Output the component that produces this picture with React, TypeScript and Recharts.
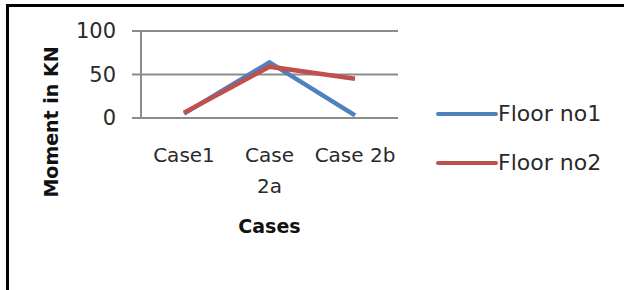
import { LineChart, Line, XAxis, YAxis, CartesianGrid, Legend, Label } from "recharts"

const cases = ["Case1", "Case\n2a", "Case 2b"]
const floorNo1 = [5, 64, 3]
const floorNo2 = [6, 59, 45]
const yTicks = [0, 50, 100]
const seriesNames = ["Floor no1", "Floor no2"]
const seriesColors = ["#4F81BD", "#C0504D"]

const data = cases.map((name, i) => ({ name, f1: floorNo1[i], f2: floorNo2[i] }))

const font = "'DejaVu Sans', sans-serif"

function CaseTick({ x, y, payload }: any) {
  const lines = String(payload.value).split("\n")
  return (
    <text x={x} y={y} textAnchor="middle" fill="#2a2a2a" fontSize={20} fontFamily={font}>
      {lines.map((l, i) => (
        <tspan key={i} x={x} dy={i === 0 ? 44 : 31}>
          {l}
        </tspan>
      ))}
    </text>
  )
}

function LegendBox({ payload }: any) {
  return (
    <div>
      {(payload || []).map((p: any) => (
        <div key={p.value} style={{ display: "flex", alignItems: "center", height: 49 }}>
          <svg width={62} height={6}>
            <line x1={2} y1={3} x2={60} y2={3} stroke={p.color} strokeWidth={4} strokeLinecap="round" />
          </svg>
          <span style={{ fontFamily: font, fontSize: 22, color: "#2a2a2a" }}>{p.value}</span>
        </div>
      ))}
    </div>
  )
}

export default function App() {
  return (
    <div style={{ position: "absolute", left: 0, top: 0, width: 624, height: 290, background: "#fff" }}>
      <div
        style={{
          position: "absolute",
          left: 6,
          top: 4,
          width: 618,
          height: 286,
          borderTop: "3px solid #000",
          borderLeft: "3px solid #000",
          boxSizing: "border-box",
        }}
      />
      <LineChart
        width={624}
        height={290}
        data={data}
        margin={{ top: 31, right: 226, left: 0, bottom: 72 }}
        style={{ position: "absolute", left: 0, top: 0 }}
      >
        <CartesianGrid vertical={false} stroke="#8c8c8c" strokeWidth={2} />
        <XAxis
          dataKey="name"
          height={100}
          axisLine={false}
          tickLine={false}
          tickSize={0}
          tickMargin={0}
          padding={{ left: 43, right: 43 }}
          tick={<CaseTick />}
          interval={0}
        >
          <Label
            content={({ viewBox }: any) => (
              <text
                x={viewBox.x + viewBox.width / 2}
                y={viewBox.y + 115}
                textAnchor="middle"
                fontFamily={font}
                fontWeight="bold"
                fontSize={19}
                fill="#111"
              >
                Cases
              </text>
            )}
          />
        </XAxis>
        <YAxis
          width={141}
          domain={[0, 100]}
          ticks={yTicks}
          axisLine={{ stroke: "#8c8c8c", strokeWidth: 2 }}
          tickLine={{ stroke: "#8c8c8c", strokeWidth: 2 }}
          tickSize={9}
          tickMargin={16}
          tick={{ fill: "#2a2a2a", fontSize: 21, fontFamily: font }}
        >
          <Label
            content={() => (
              <text
                x={51}
                y={122}
                transform="rotate(-90 51 122)"
                textAnchor="middle"
                dominantBaseline="central"
                fontFamily={font}
                fontWeight="bold"
                fontSize={19}
                fill="#111"
              >
                Moment in KN
              </text>
            )}
          />
        </YAxis>
        <Legend
          layout="horizontal"
          verticalAlign="middle"
          align="center"
          content={<LegendBox />}
          wrapperStyle={{ left: 436, top: 89, width: 185 }}
        />
        <Line
          type="linear"
          dataKey="f1"
          name={seriesNames[0]}
          stroke={seriesColors[0]}
          strokeWidth={4.5}
          dot={false}
          activeDot={false}
          isAnimationActive={false}
        />
        <Line
          type="linear"
          dataKey="f2"
          name={seriesNames[1]}
          stroke={seriesColors[1]}
          strokeWidth={4.5}
          dot={false}
          activeDot={false}
          isAnimationActive={false}
        />
      </LineChart>
    </div>
  )
}
